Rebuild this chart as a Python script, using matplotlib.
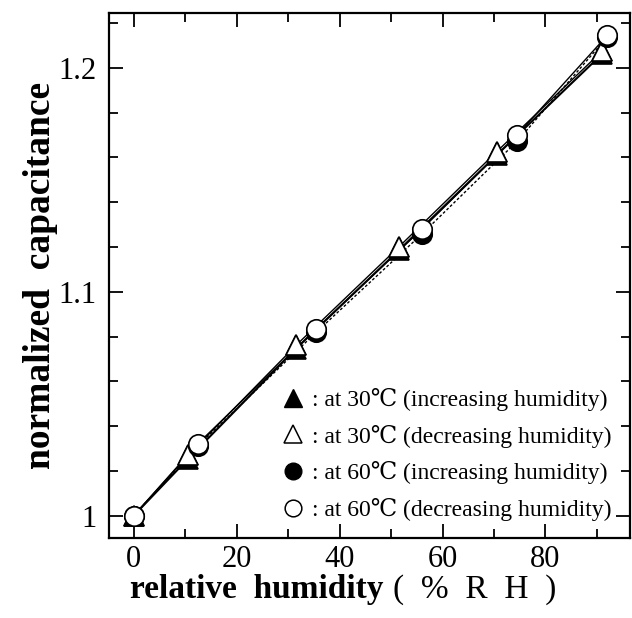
import matplotlib
matplotlib.use("Agg")
import matplotlib.pyplot as plt
from matplotlib.lines import Line2D
from matplotlib.ticker import MultipleLocator, FixedLocator, FixedFormatter

# ---- data ----
rh_30_inc = [0, 10.6, 31.5, 51.5, 70.5, 91.0]
cap_30_inc = [1.000, 1.0255, 1.0745, 1.1185, 1.1610, 1.2062]

rh_30_dec = [0, 10.6, 31.5, 51.5, 70.5, 91.0]
cap_30_dec = [1.000, 1.0270, 1.0760, 1.1200, 1.1625, 1.2075]

rh_60_inc = [0, 12.4, 35.5, 56.0, 74.5, 92.0]
cap_60_inc = [1.000, 1.0310, 1.0820, 1.1258, 1.1672, 1.2138]

rh_60_dec = [0, 12.4, 35.5, 56.0, 74.5, 92.0]
cap_60_dec = [1.000, 1.0320, 1.0835, 1.1280, 1.1700, 1.2145]

legend_labels = [": at 30\u2103 (increasing humidity)",
                 ": at 30\u2103 (decreasing humidity)",
                 ": at 60\u2103 (increasing humidity)",
                 ": at 60\u2103 (decreasing humidity)"]

x_major = [0, 20, 40, 60, 80]
x_ticklabels = ["0", "20", "40", "60", "80"]
y_major = [1.0, 1.1, 1.2]
y_ticklabels = ["1", "1.1", "1.2"]

SERIF = ["Liberation Serif", "DejaVu Serif", "Noto Sans CJK JP"]
plt.rcParams["font.family"] = SERIF

fig = plt.figure(figsize=(6.32, 6.18), dpi=100)
ax = fig.add_axes([0.1725, 0.1294, 0.825, 0.8496])

# lines
ax.plot(rh_30_inc, cap_30_inc, "-", color="black", lw=1.5, zorder=2)
ax.plot(rh_30_dec, cap_30_dec, "-", color="black", lw=1.0, zorder=2)
ax.plot(rh_60_inc, cap_60_inc, "--", color="black", lw=1.0, dashes=(2, 1.5), zorder=2)
ax.plot(rh_60_dec, cap_60_dec, "-", color="black", lw=1.0, zorder=2)

ms = 14
# markers (filled first, open on top)
ax.plot(rh_30_dec, cap_30_dec, "^", ms=ms + 1, mfc="white", mec="black", mew=1.2, ls="none", zorder=3)
ax.plot(rh_30_inc, cap_30_inc, "^", ms=ms + 1, mfc="black", mec="black", mew=1.2, ls="none", zorder=4)
ax.plot(rh_30_dec[1:], cap_30_dec[1:], "^", ms=ms + 1, mfc="white", mec="black", mew=1.2, ls="none", zorder=5)
ax.plot(rh_60_inc, cap_60_inc, "o", ms=ms, mfc="black", mec="black", mew=1.2, ls="none", zorder=6)
ax.plot(rh_60_dec, cap_60_dec, "o", ms=ms, mfc="white", mec="black", mew=1.2, ls="none", zorder=7)

ax.set_xlim(-4.8, 96.5)
ax.set_ylim(0.990, 1.2245)

ax.xaxis.set_major_locator(FixedLocator(x_major))
ax.xaxis.set_major_formatter(FixedFormatter(x_ticklabels))
ax.xaxis.set_minor_locator(MultipleLocator(10))
ax.yaxis.set_major_locator(FixedLocator(y_major))
ax.yaxis.set_major_formatter(FixedFormatter(y_ticklabels))
ax.yaxis.set_minor_locator(MultipleLocator(0.02))

ax.tick_params(which="both", direction="in", top=True, right=True, width=1.3)
ax.tick_params(which="major", length=10, labelsize=22)
ax.tick_params(which="minor", length=6.5)
ax.tick_params(axis="x", which="major", pad=5)
ax.tick_params(axis="y", which="major", pad=9)
for s in ax.spines.values():
    s.set_linewidth(1.6)

ax.set_ylabel("normalized  capacitance", fontsize=27, fontweight="bold", labelpad=0)
ax.text(0.04, -0.098, "relative  humidity", transform=ax.transAxes, fontsize=24,
        fontweight="bold", ha="left", va="center")
ax.text(0.545, -0.098, "(\u2002%\u2002R\u2002H\u2002)", transform=ax.transAxes, fontsize=24,
        ha="left", va="center")

handles = [
    Line2D([], [], marker="^", ls="none", ms=13, mfc="black", mec="black"),
    Line2D([], [], marker="^", ls="none", ms=13, mfc="white", mec="black", mew=1.1),
    Line2D([], [], marker="o", ls="none", ms=12, mfc="black", mec="black"),
    Line2D([], [], marker="o", ls="none", ms=12, mfc="white", mec="black", mew=1.1),
]
ax.legend(handles, legend_labels, loc="upper left", bbox_to_anchor=(0.33, 0.286),
          frameon=False, fontsize=17, handlelength=1.0, handletextpad=0.3,
          labelspacing=0.58, borderpad=0, borderaxespad=0)

fig.savefig("out.png", dpi=100)
